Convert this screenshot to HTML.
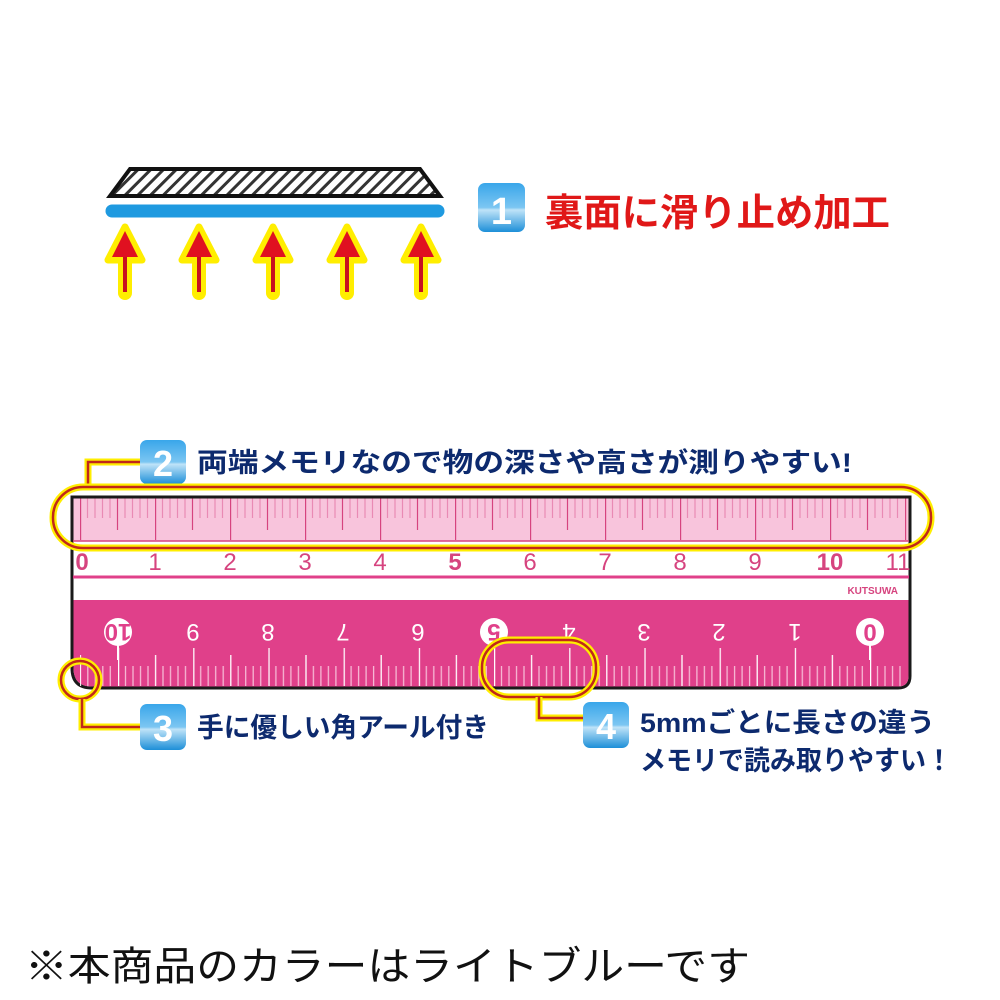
<!DOCTYPE html>
<html><head><meta charset="utf-8"><style>
html,body{margin:0;padding:0;background:#fff;}
svg{display:block;}
.jp{font-family:"Liberation Sans","Noto Sans CJK JP",sans-serif;font-weight:bold;}
</style></head><body>
<svg width="1000" height="1000" viewBox="0 0 1000 1000" xmlns="http://www.w3.org/2000/svg">
<defs>
<pattern id="hatch" patternUnits="userSpaceOnUse" width="9" height="9" patternTransform="rotate(45)">
<rect width="9" height="9" fill="#fff"/><rect width="3" height="9" fill="#333"/></pattern>
<linearGradient id="bg" x1="0" y1="0" x2="0" y2="1"><stop offset="0" stop-color="#39a6ea"/><stop offset="0.5" stop-color="#7cc6f2"/><stop offset="0.55" stop-color="#bfe3f8"/><stop offset="1" stop-color="#1d8fd8"/></linearGradient>
<pattern id="topt" patternUnits="userSpaceOnUse" x="80" y="0" width="75" height="1000">
<g stroke="#d6447f" stroke-width="1.2">
<line x1="0.6" y1="497" x2="0.6" y2="540"/>
<g stroke="#e98ab4"><line x1="7.5" y1="497" x2="7.5" y2="518"/><line x1="15" y1="497" x2="15" y2="518"/><line x1="22.5" y1="497" x2="22.5" y2="518"/><line x1="30" y1="497" x2="30" y2="518"/>
<line x1="45" y1="497" x2="45" y2="518"/><line x1="52.5" y1="497" x2="52.5" y2="518"/><line x1="60" y1="497" x2="60" y2="518"/><line x1="67.5" y1="497" x2="67.5" y2="518"/></g>
<line x1="37.5" y1="497" x2="37.5" y2="530"/>
</g></pattern>
<pattern id="bott" patternUnits="userSpaceOnUse" x="118" y="0" width="75.2" height="1000">
<g stroke="#fff" stroke-width="1.3">
<line x1="0.6" y1="648" x2="0.6" y2="688"/>
<g stroke="#f6b8d4"><line x1="7.5" y1="666" x2="7.5" y2="688"/><line x1="15" y1="666" x2="15" y2="688"/><line x1="22.5" y1="666" x2="22.5" y2="688"/><line x1="30" y1="666" x2="30" y2="688"/>
<line x1="45" y1="666" x2="45" y2="688"/><line x1="52.5" y1="666" x2="52.5" y2="688"/><line x1="60" y1="666" x2="60" y2="688"/><line x1="67.5" y1="666" x2="67.5" y2="688"/></g>
<line x1="37.6" y1="655" x2="37.6" y2="688"/>
</g></pattern>
</defs>

<polygon points="130,169 420,169 440,196 110,196" fill="url(#hatch)" stroke="#111" stroke-width="4"/>
<line x1="112" y1="211" x2="438" y2="211" stroke="#1f9ae0" stroke-width="13" stroke-linecap="round"/>
<g>
<g id="ar">
<path d="M125,293 V252" stroke="#ffee00" stroke-width="14" stroke-linecap="round" fill="none"/>
<polygon points="125,227 142,260 108,260" fill="#ffee00" stroke="#ffee00" stroke-width="7" stroke-linejoin="round"/>
<line x1="125" y1="252" x2="125" y2="292" stroke="#c81020" stroke-width="4"/>
<polygon points="125,231 138,257 112,257" fill="#e01020"/>
</g>
<use href="#ar" x="74"/><use href="#ar" x="148"/><use href="#ar" x="222"/><use href="#ar" x="296"/>
</g>

<rect x="478" y="183" width="47" height="49" rx="7" fill="url(#bg)"/>
<text x="501.5" y="224" text-anchor="middle" class="jp" font-size="38" fill="#fff">1</text>
<text x="545" y="226" class="jp" font-size="38" fill="#e01818" textLength="345" lengthAdjust="spacingAndGlyphs">裏面に滑り止め加工</text>

<polyline points="88,486 88,462 140,462" fill="none" stroke="#ffee00" stroke-width="7"/>
<polyline points="88,486 88,462 140,462" fill="none" stroke="#c0281a" stroke-width="2.5"/>
<rect x="140" y="440" width="46" height="44" rx="7" fill="url(#bg)"/>
<text x="163" y="476" text-anchor="middle" class="jp" font-size="36" fill="#fff">2</text>
<text x="197" y="472" class="jp" font-size="27" fill="#0d2a6e" textLength="655" lengthAdjust="spacingAndGlyphs">両端メモリなので物の深さや高さが測りやすい!</text>

<path d="M72,497 H910 V676 Q910,688 898,688 H92 Q72,688 72,668 Z" fill="#fff" stroke="#1a1a1a" stroke-width="3"/>
<rect x="73.5" y="498.5" width="835" height="43" fill="#f8c4dc"/>
<rect x="73.5" y="498.5" width="835" height="43" fill="url(#topt)"/>
<line x1="73" y1="541" x2="909" y2="541" stroke="#d6447f" stroke-width="1.5"/>
<g font-family="Liberation Sans,sans-serif" font-size="24" fill="#d6447f" text-anchor="middle">
<text x="82" y="570" font-weight="bold">0</text><text x="155" y="570">1</text><text x="230" y="570">2</text><text x="305" y="570">3</text><text x="380" y="570">4</text><text x="455" y="570" font-weight="bold">5</text><text x="530" y="570">6</text><text x="605" y="570">7</text><text x="680" y="570">8</text><text x="755" y="570">9</text><text x="830" y="570" font-weight="bold">10</text><text x="898" y="570">11</text>
</g>
<line x1="73" y1="577" x2="909" y2="577" stroke="#e0408a" stroke-width="3"/>
<text x="898" y="594" text-anchor="end" font-family="Liberation Sans,sans-serif" font-weight="bold" font-size="10" fill="#d6447f">KUTSUWA</text>
<path d="M73.5,600 H908.5 V676 Q908.5,686.5 898,686.5 H92 Q73.5,686.5 73.5,668 Z" fill="#e0408a"/>
<rect x="80" y="640" width="825" height="46" fill="url(#bott)"/>
<g fill="#fff">
<circle cx="118" cy="632" r="14"/><circle cx="494" cy="632" r="14"/><circle cx="870" cy="632" r="14"/>
<line x1="118" y1="640" x2="118" y2="660" stroke="#fff" stroke-width="2"/>
<line x1="870" y1="640" x2="870" y2="660" stroke="#fff" stroke-width="2"/>
</g>
<g font-family="Liberation Sans,sans-serif" font-size="24" text-anchor="middle">
<g fill="#e0408a" font-weight="bold">
<text transform="translate(118,624) rotate(180)">10</text>
<text transform="translate(494,624) rotate(180)">5</text>
<text x="870" y="641">0</text>
</g>
<g fill="#fff">
<text transform="translate(193,624) rotate(180)">9</text>
<text transform="translate(268,624) rotate(180)">8</text>
<text transform="translate(343,624) rotate(180)">7</text>
<text transform="translate(418,624) rotate(180)">6</text>
<text transform="translate(569,624) rotate(180)">4</text>
<text transform="translate(644,624) rotate(180)">3</text>
<text transform="translate(719,624) rotate(180)">2</text>
<text transform="translate(795,624) rotate(180)">1</text>
</g></g>

<rect x="53" y="487" width="878" height="61" rx="30" fill="none" stroke="#ffee00" stroke-width="7"/>
<rect x="53" y="487" width="878" height="61" rx="30" fill="none" stroke="#c0281a" stroke-width="2.5"/>

<circle cx="80" cy="680" r="19" fill="none" stroke="#ffee00" stroke-width="7"/>
<circle cx="80" cy="680" r="19" fill="none" stroke="#c0281a" stroke-width="2.5"/>
<polyline points="82,699 82,727 140,727" fill="none" stroke="#ffee00" stroke-width="7"/>
<polyline points="82,699 82,727 140,727" fill="none" stroke="#c0281a" stroke-width="2.5"/>
<rect x="140" y="704" width="46" height="46" rx="7" fill="url(#bg)"/>
<text x="163" y="741" text-anchor="middle" class="jp" font-size="36" fill="#fff">3</text>
<text x="197" y="737" class="jp" font-size="27" fill="#0d2a6e" textLength="292" lengthAdjust="spacingAndGlyphs">手に優しい角アール付き</text>

<rect x="482" y="640" width="114" height="57" rx="27" fill="none" stroke="#ffee00" stroke-width="7"/>
<rect x="482" y="640" width="114" height="57" rx="27" fill="none" stroke="#c0281a" stroke-width="2.5"/>
<polyline points="539,697 539,718 584,718" fill="none" stroke="#ffee00" stroke-width="7"/>
<polyline points="539,697 539,718 584,718" fill="none" stroke="#c0281a" stroke-width="2.5"/>
<rect x="583" y="702" width="46" height="46" rx="7" fill="url(#bg)"/>
<text x="606" y="739" text-anchor="middle" class="jp" font-size="36" fill="#fff">4</text>
<text x="640" y="732" class="jp" font-size="27" fill="#0d2a6e" textLength="295" lengthAdjust="spacingAndGlyphs">5mmごとに長さの違う</text>
<text x="640" y="770" class="jp" font-size="27" fill="#0d2a6e" textLength="312" lengthAdjust="spacingAndGlyphs">メモリで読み取りやすい！</text>

<text x="25" y="980" font-family="Liberation Sans,'Noto Sans CJK JP',sans-serif" font-size="40" fill="#111" textLength="725" lengthAdjust="spacingAndGlyphs">※本商品のカラーはライトブルーです</text>
</svg>
</body></html>
